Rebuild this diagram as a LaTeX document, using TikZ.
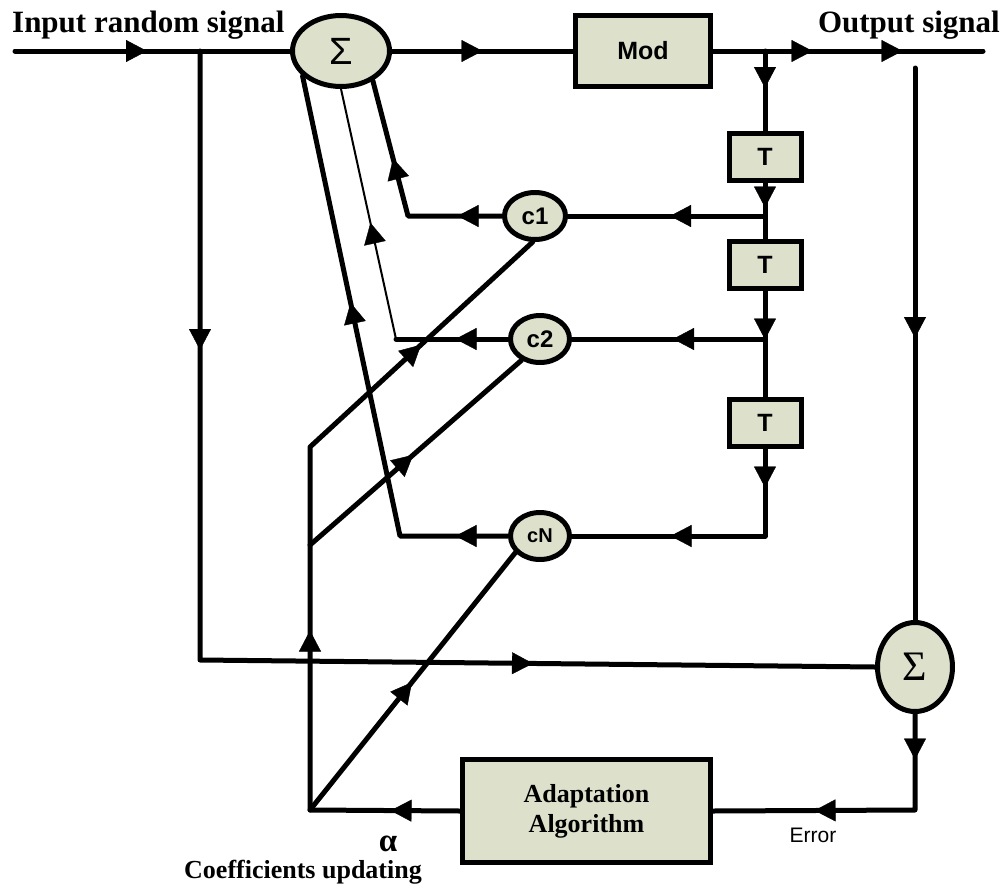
\documentclass[tikz,border=0pt]{standalone}
\usepackage{fontspec}
\setmainfont{Liberation Serif}
\setsansfont{Liberation Sans}
\usetikzlibrary{arrows.meta,decorations.markings,shapes.geometric}
\definecolor{boxfill}{RGB}{221,225,203}
\tikzset{tri/.tip={Triangle[length=21pt,width=22pt,line width=0.4pt]}}
\begin{document}
\begin{tikzpicture}[x=1pt,y=-1pt,
  wire/.style={line width=5pt, line cap=round, line join=round},
  thinwire/.style={line width=2pt, line cap=round},
  am/.style={postaction={decorate,decoration={markings,mark=at position #1 with {\arrow{tri}}}}},
  blk/.style={draw, line width=5pt, fill=boxfill, inner sep=0pt, font=\sffamily\bfseries\fontsize{25}{30}\selectfont},
  ell/.style={ellipse, draw, line width=5pt, fill=boxfill, inner sep=0pt},
  lbl/.style={inner sep=0pt}]
\useasboundingbox (0,0) rectangle (1005,892);

% nodes
\node[ell, minimum width=97pt, minimum height=71pt] (s1) at (341,51) {\sffamily\fontsize{38}{40}\selectfont Σ};
\node[blk, minimum width=135pt, minimum height=71pt] (mod) at (643,51) {Mod};
\node[blk, minimum width=72pt, minimum height=47pt] (t1) at (765,157) {T};
\node[blk, minimum width=72pt, minimum height=47pt] (t2) at (765,265) {T};
\node[blk, minimum width=72pt, minimum height=47pt] (t3) at (765,422.5) {T};
\node[ell, minimum width=61pt, minimum height=47pt, font=\sffamily\bfseries\fontsize{24}{28}\selectfont] (c1) at (535,216) {c1};
\node[ell, minimum width=59pt, minimum height=47pt, font=\sffamily\bfseries\fontsize{24}{28}\selectfont] (c2) at (540,339) {c2};
\node[ell, minimum width=59pt, minimum height=47pt, font=\sffamily\bfseries\fontsize{20}{24}\selectfont] (cN) at (540,536) {cN};
\node[ell, minimum width=75pt, minimum height=89pt] (s2) at (915,667) {\rmfamily\fontsize{42}{44}\selectfont Σ};
\node[blk, minimum width=248pt, minimum height=103pt, align=center, font=\rmfamily\bfseries\fontsize{26}{30}\selectfont] (adapt) at (586.5,811) {Adaptation\\Algorithm};

% labels
\node[lbl, anchor=base west, font=\rmfamily\bfseries\fontsize{31}{36}\selectfont] (lin) at (12,32) {Input random signal};
\node[lbl, anchor=base east, font=\rmfamily\bfseries\fontsize{31}{36}\selectfont] (lout) at (1000,32) {Output signal};
\node[lbl, anchor=base, font=\rmfamily\bfseries\fontsize{33}{34}\selectfont] (alpha) at (388,851) {α};
\node[lbl, anchor=base, font=\rmfamily\bfseries\fontsize{26}{30}\selectfont] (coef) at (303,878) {Coefficients updating};
\node[lbl, anchor=base, font=\sffamily\fontsize{21}{24}\selectfont] (err) at (813,842) {Error};

% coordinates
\coordinate (in) at (15,51);
\coordinate (tapin) at (200,51);
\coordinate (bl) at (200,660);
\coordinate (tapout) at (765,51);
\coordinate (out) at (983,51);
\coordinate (tap1) at (765,216);
\coordinate (tap2) at (765,339);
\coordinate (tapN) at (765,536);
\coordinate (k1) at (408,216);
\coordinate (k2) at (396,339);
\coordinate (kN) at (400,536);
\coordinate (rtop) at (915,68);
\coordinate (ebr) at (915,810);
\coordinate (aL) at (310,810);
\coordinate (aM) at (310,545);
\coordinate (aT) at (310,447);

% connectors
\draw[wire, am=132pt] (in) -- (s1.west);
\draw[wire, am=299pt, am=942pt] (tapin) -- (bl) -- (s2.west);
\draw[wire, am=90.5pt] (s1.east) -- (mod.west);
\draw[wire, am=99.5pt, am=189.5pt] (mod.east) -- (out);
\draw[wire, am=37pt] (tapout) -- (t1.north);
\draw[wire, am=24.5pt] (t1.south) -- (t2.north);
\draw[wire, am=95pt] (tap1) -- (c1.east);
\draw[wire, am=48.5pt] (t2.south) -- (t3.north);
\draw[wire, am=92pt] (tap2) -- (c2.east);
\draw[wire, am=39pt, am=182pt] (t3.south) -- (tapN) -- (cN.east);
\draw[wire, am=270pt] (rtop) -- (s2.north);
\draw[wire, am=45.5pt, am=196.5pt] (s2.south) -- (ebr) -- (adapt.east);
\draw[wire, am=69.5pt, am=329.5pt, am=664pt] (adapt.west) -- (aL) -- (aT) -- (c1.-95);
\draw[wire, am=137pt] (aM) -- (c2.-131);
\draw[wire, am=163.5pt] (aL) -- (cN.-146);
\draw[wire, am=44.5pt, am=153.5pt] (c1.west) -- (k1) -- (s1.-43);
\draw[wire, am=52.5pt] (c2.west) -- (k2);
\draw[thinwire, am=119pt] (k2) -- (s1.south);
\draw[wire, am=52.5pt, am=346.5pt] (cN.west) -- (kN) -- (s1.-147);
\end{tikzpicture}
\end{document}
